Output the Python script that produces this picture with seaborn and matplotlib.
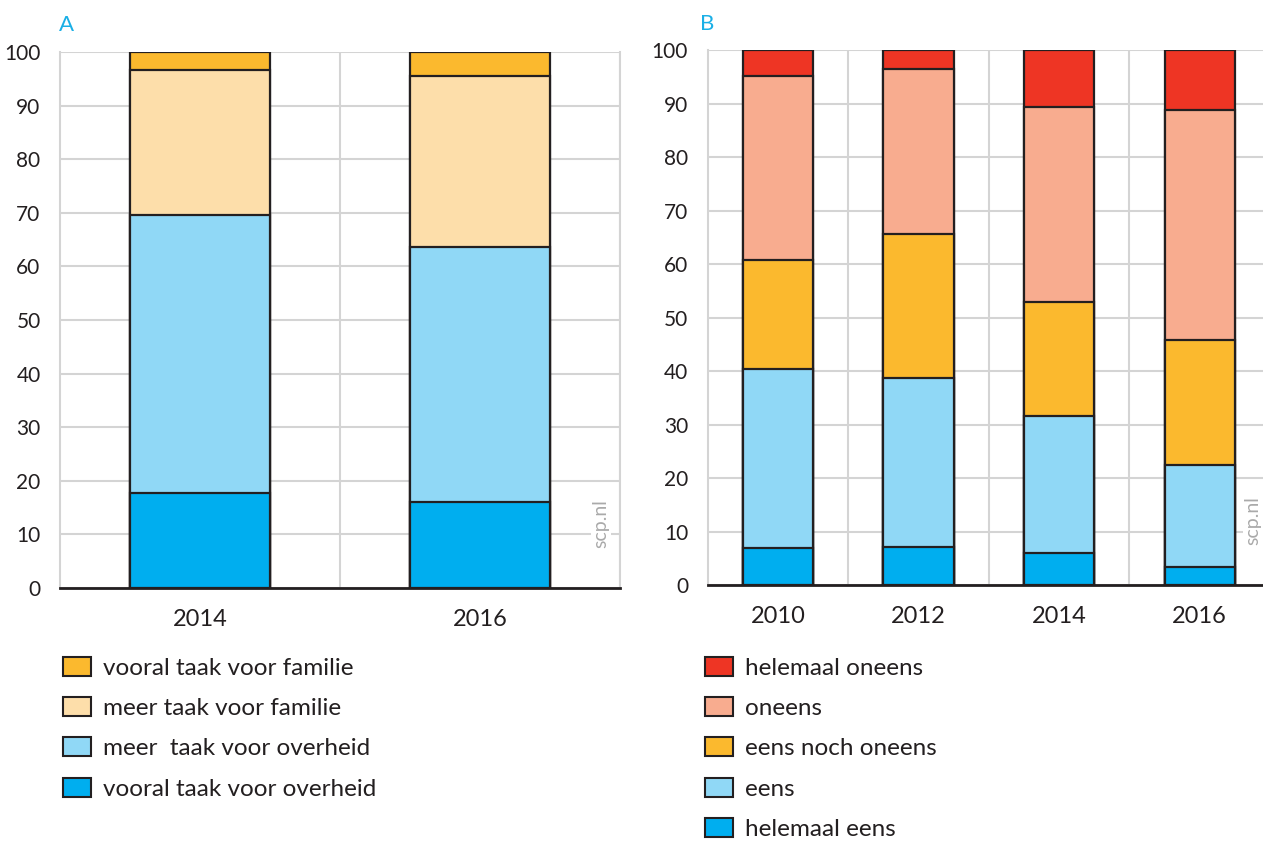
import pandas as pd
import seaborn as sns
import numpy as np
import matplotlib.pyplot as plt
from matplotlib.patches import Patch
from matplotlib.ticker import MultipleLocator, FixedLocator

# panel A
years_a = ['2014', '2016']
labels_a = ['vooral taak voor overheid', 'meer  taak voor overheid',
            'meer taak voor familie', 'vooral taak voor familie']
vooral_overheid = [17.8, 16.0]
meer_overheid = [51.8, 47.6]
meer_familie = [27.0, 31.9]
vooral_familie = [3.4, 4.5]
colors_a = ['#00AEEF', '#90D8F6', '#FDDEAA', '#FBB92E']

# panel B
years_b = ['2010', '2012', '2014', '2016']
labels_b = ['helemaal eens', 'eens', 'eens noch oneens', 'oneens', 'helemaal oneens']
helemaal_eens = [6.9, 7.1, 6.0, 3.4]
eens = [33.5, 31.6, 25.6, 19.0]
neutraal = [20.3, 26.9, 21.3, 23.4]
oneens = [34.4, 30.8, 36.4, 43.0]
helemaal_oneens = [4.9, 3.6, 10.7, 11.2]
colors_b = ['#00AEEF', '#90D8F6', '#FBB92E', '#F8AC8F', '#EE3524']

sns.set_style('white')
plt.rcParams['font.family'] = ['Lato', 'DejaVu Sans']
text_col = '#231F20'
grid_col = '#D4D4D4'


def stacked(ax, years, series, colors, scp_x):
    cum = np.cumsum(np.array(series), axis=0)
    # draw from the top total down so every layer shows through
    for i in range(len(series) - 1, -1, -1):
        df = pd.DataFrame({'jaar': years, 'waarde': cum[i]})
        sns.barplot(data=df, x='jaar', y='waarde', color=colors[i], width=0.5,
                    edgecolor=text_col, linewidth=1.6, saturation=1, ax=ax, zorder=3)
    n = len(years)
    ax.set_xlim(-0.5, n - 0.5)
    ax.set_ylim(0, 100)
    ax.yaxis.set_major_locator(MultipleLocator(10))
    ax.xaxis.set_minor_locator(FixedLocator(np.arange(0.5, n, 1)))
    ax.grid(axis='y', which='major', color=grid_col, linewidth=1.5)
    ax.grid(axis='x', which='minor', color=grid_col, linewidth=1.5)
    ax.set_xlabel('')
    ax.set_ylabel('')
    for s in ['left', 'right', 'top']:
        ax.spines[s].set_color(grid_col)
        ax.spines[s].set_linewidth(1.5)
    ax.spines['top'].set_visible(False)
    ax.spines['bottom'].set_color(text_col)
    ax.spines['bottom'].set_linewidth(2)
    ax.tick_params(axis='x', which='major', direction='inout', length=14, width=1.6,
                   color=text_col, labelsize=17, labelcolor=text_col, pad=8)
    ax.tick_params(axis='x', which='minor', length=0)
    ax.tick_params(axis='y', length=0, labelsize=15, labelcolor=text_col, pad=14)
    ax.text(scp_x, 0.12, 'scp.nl', transform=ax.transAxes, rotation=90, color='#AAAAAA',
            fontsize=14, ha='center', va='center', zorder=4,
            bbox=dict(facecolor='white', edgecolor='none', pad=1))


fig = plt.figure(figsize=(12.63, 8.43), dpi=100)
ax_a = fig.add_axes([0.0475, 0.3025, 0.4434, 0.6358])
ax_b = fig.add_axes([0.5602, 0.306, 0.4454, 0.6346])

stacked(ax_a, years_a, [vooral_overheid, meer_overheid, meer_familie, vooral_familie],
        colors_a, 0.966)
stacked(ax_b, years_b, [helemaal_eens, eens, neutraal, oneens, helemaal_oneens],
        colors_b, 0.97)

fig.text(0.047, 0.97, 'A', color='#1AAFE6', fontsize=16, va='center')
fig.text(0.554, 0.972, 'B', color='#1AAFE6', fontsize=16, va='center')

for labels, colors, x in [(labels_a, colors_a, 0.05), (labels_b, colors_b, 0.558)]:
    handles = [Patch(facecolor=c, edgecolor=text_col, linewidth=1.5, label=l)
               for l, c in zip(labels, colors)][::-1]
    fig.legend(handles=handles, loc='upper left', bbox_to_anchor=(x, 0.221),
               frameon=False, fontsize=17.5, handlelength=1.15, handleheight=0.82,
               handletextpad=0.5, labelspacing=0.76, borderpad=0, borderaxespad=0,
               labelcolor=text_col)

fig.savefig('out.png', dpi=100)
